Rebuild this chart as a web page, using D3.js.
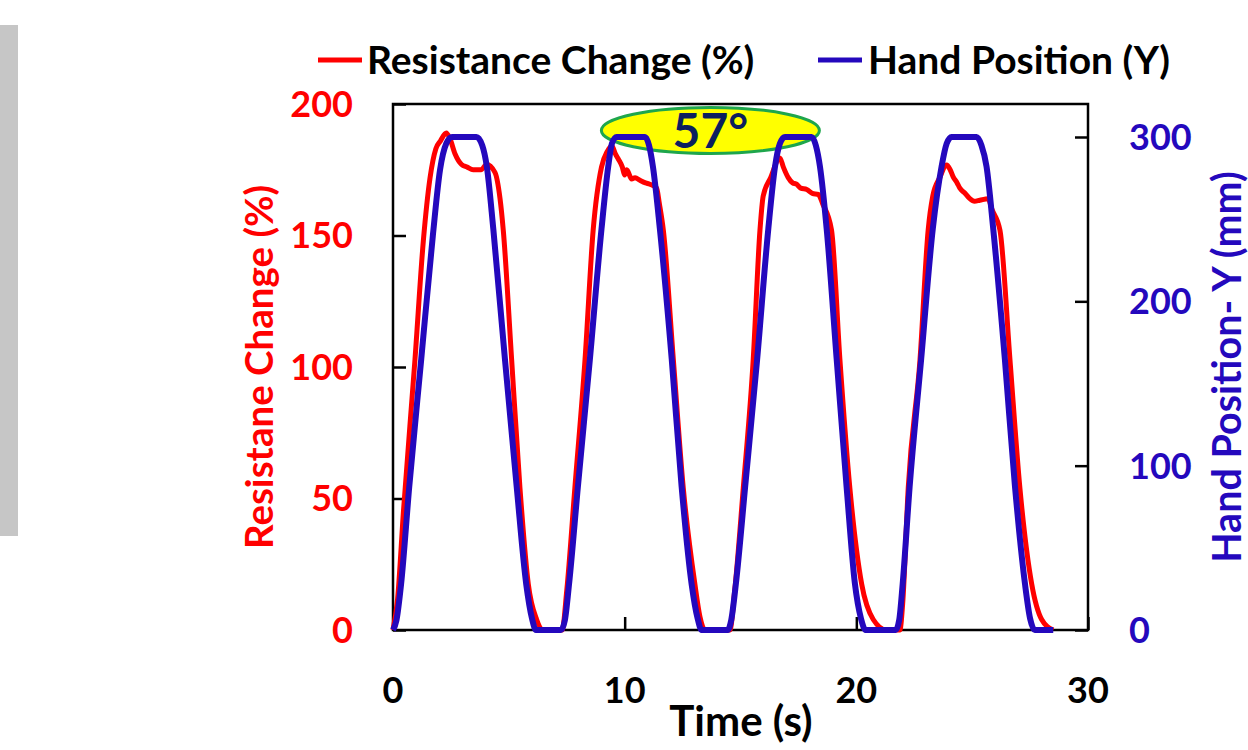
<!DOCTYPE html>
<html>
<head>
<meta charset="utf-8">
<script src="https://cdn.jsdelivr.net/npm/d3@7"></script>
<style>
  body { margin: 0; background: #fff; }
  svg { display: block; font-family: Lato, "Open Sans", sans-serif; font-weight: bold; }
</style>
</head>
<body>
<svg id="chart" width="1248" height="750"></svg>
<script>
// readings taken off the plot: [time (s), value]
var resistance = [
  [0, 0], [0.2, 12], [0.45, 45], [0.95, 103], [1.31, 148], [1.6, 172], [1.85, 183], [2.05, 186],
  [2.3, 189], [2.45, 187], [2.68, 181], [2.96, 177], [3.2, 176], [3.46, 175], [3.8, 175], [4.04, 177],
  [4.4, 174], [4.62, 164], [4.76, 152], [5.12, 103], [5.48, 54], [5.84, 17.5], [6.2, 4], [6.48, 0],
  [7.3, 0], [7.5, 15], [7.85, 54], [8.29, 103], [8.64, 152], [9.0, 176], [9.25, 182], [9.45, 184],
  [9.6, 181], [9.73, 179], [9.9, 176], [10.0, 173], [10.09, 175], [10.3, 171.5], [10.45, 172], [10.66, 171],
  [10.9, 170], [11.09, 169.5], [11.38, 168], [11.5, 162], [11.67, 152], [12.1, 103], [12.53, 54], [13.03, 17.5],
  [13.25, 5], [13.47, 0], [14.54, 0], [14.75, 15], [15.12, 54], [15.55, 103], [15.84, 152], [15.98, 165],
  [16.3, 172], [16.7, 179.5], [16.85, 176], [17.06, 172], [17.25, 170], [17.42, 169.5], [17.6, 168], [17.86, 167.5],
  [18.1, 166], [18.36, 165.6], [18.55, 162], [18.93, 152], [19.29, 103], [19.72, 54], [20.23, 17.5], [20.73, 4],
  [21.3, 0], [21.88, 0], [22.0, 10], [22.24, 54], [22.75, 103], [23.1, 152], [23.3, 165], [23.6, 172],
  [23.9, 176.8], [24.05, 175], [24.18, 172.3], [24.35, 170], [24.47, 168], [24.7, 166], [24.9, 164], [25.1, 163],
  [25.33, 163.4], [25.69, 164], [25.85, 160], [26.2, 152], [26.63, 103], [27.06, 54], [27.57, 17.5], [28.0, 4],
  [28.5, 0]
]

var handY = [
  [0, 0], [0.15, 6], [0.35, 28], [0.7, 87], [1.22, 165], [1.72, 240], [2.03, 280], [2.3, 296], [2.55, 300],
  [3.6, 300], [3.85, 295], [4.05, 282], [4.33, 244], [4.83, 165], [5.34, 87], [5.75, 28], [6.0, 7], [6.17, 0],
  [7.25, 0], [7.42, 6], [7.6, 28], [7.98, 87], [8.5, 165], [9.0, 244], [9.29, 282], [9.45, 296], [9.65, 300],
  [10.88, 300], [11.05, 295], [11.22, 282], [11.52, 244], [12.03, 165], [12.46, 87], [12.89, 28], [13.15, 7], [13.32, 0],
  [14.45, 0], [14.6, 6], [14.8, 28], [15.2, 87], [15.72, 165], [16.2, 244], [16.49, 282], [16.7, 296], [16.92, 300],
  [18.07, 300], [18.25, 295], [18.43, 282], [18.72, 244], [19.15, 165], [19.58, 87], [19.94, 28], [20.2, 7], [20.4, 0],
  [21.7, 0], [21.85, 6], [22.0, 28], [22.3, 87], [22.8, 165], [23.3, 244], [23.68, 282], [23.9, 296], [24.11, 300],
  [25.19, 300], [25.4, 295], [25.62, 282], [25.91, 244], [26.41, 165], [26.85, 87], [27.28, 28], [27.5, 7], [27.7, 0],
  [28.5, 0]
]

var xTicks = [0, 10, 20, 30]
var leftTicks = [0, 50, 100, 150, 200]
var rightTicks = [0, 100, 200, 300]
var seriesNames = ['Resistance Change (%)', 'Hand Position (Y)']
var angleLabel = '57°'

var red = '#ff0000'
var blue = '#2408bd'

var svg = d3.select('#chart')
var m = {left: 393, right: 1088, top: 104, bottom: 630}

var x = d3.scaleLinear().domain([0, 30]).range([m.left, m.right])
var yL = d3.scaleLinear().domain([0, 200]).range([m.bottom, m.top])
var yR = d3.scaleLinear().domain([0, 300]).range([m.bottom, 137])

// grey strip on the far left
svg.append('rect').attr('x', 0).attr('y', 25).attr('width', 18).attr('height', 511).attr('fill', '#c6c6c6')

// angle badge sits under the curves, its label on top
var badgeX = 13.7, badgeY = 304
svg.append('ellipse')
  .attr('cx', x(badgeX)).attr('cy', yR(badgeY))
  .attr('rx', 109).attr('ry', 23)
  .attr('fill', '#ffff00').attr('stroke', '#1ea64c').attr('stroke-width', 3)

// plot frame
svg.append('rect')
  .attr('x', m.left).attr('y', m.top)
  .attr('width', m.right - m.left).attr('height', m.bottom - m.top)
  .attr('fill', 'none').attr('stroke', '#000').attr('stroke-width', 2.5)

// inward ticks
var tickLen = 13
svg.append('g').call(d3.axisLeft(yL).tickValues(leftTicks).tickSize(-tickLen).tickFormat(''))
  .attr('transform', 'translate(' + m.left + ',0)')
svg.append('g').call(d3.axisRight(yR).tickValues(rightTicks).tickSize(-tickLen).tickFormat(''))
  .attr('transform', 'translate(' + m.right + ',0)')
svg.append('g').call(d3.axisBottom(x).tickValues(xTicks).tickSize(-tickLen).tickFormat(''))
  .attr('transform', 'translate(0,' + m.bottom + ')')
svg.selectAll('.domain').remove()
svg.selectAll('.tick line').attr('stroke', '#000').attr('stroke-width', 2.5)

// tick labels
svg.append('g').selectAll('text').data(leftTicks).join('text')
  .attr('x', 353).attr('y', d => yL(d)).attr('dy', '0.36em')
  .attr('text-anchor', 'end').attr('fill', red).attr('font-size', 36)
  .text(d => d)
svg.append('g').selectAll('text').data(rightTicks).join('text')
  .attr('x', 1129).attr('y', d => yR(d)).attr('dy', '0.36em')
  .attr('fill', blue).attr('font-size', 36)
  .text(d => d)
svg.append('g').selectAll('text').data(xTicks).join('text')
  .attr('x', d => x(d)).attr('y', 690).attr('dy', '0.36em')
  .attr('text-anchor', 'middle').attr('fill', '#000').attr('font-size', 36)
  .text(d => d)

// axis titles
svg.append('text').text('Time (s)')
  .attr('x', 741).attr('y', 721).attr('dy', '0.36em')
  .attr('text-anchor', 'middle').attr('font-size', 42)
svg.append('text').text('Resistane Change (%)')
  .attr('transform', 'translate(259,367) rotate(-90)').attr('dy', '0.36em')
  .attr('text-anchor', 'middle').attr('fill', red).attr('font-size', 38.5)
svg.append('text').text('Hand Position- Y (mm)')
  .attr('transform', 'translate(1227,367) rotate(-90)').attr('dy', '0.36em')
  .attr('text-anchor', 'middle').attr('fill', blue).attr('font-size', 39.5)

// curves
var line = d3.line().curve(d3.curveMonotoneX).x(d => x(d[0]))
svg.append('path').datum(resistance)
  .attr('d', line.y(d => yL(d[1])))
  .attr('fill', 'none').attr('stroke', red).attr('stroke-width', 5).attr('stroke-linejoin', 'round')
svg.append('path').datum(handY)
  .attr('d', line.y(d => yR(d[1])))
  .attr('fill', 'none').attr('stroke', blue).attr('stroke-width', 6).attr('stroke-linejoin', 'round')

svg.append('text').text(angleLabel)
  .attr('x', x(badgeX)).attr('y', yR(badgeY)).attr('dy', '0.36em')
  .attr('text-anchor', 'middle').attr('fill', '#0c1f5e').attr('font-size', 48)

// legend
var legend = svg.append('g').selectAll('g').data(seriesNames).join('g')
  .attr('transform', (d, i) => 'translate(' + [318, 818][i] + ',60)')
legend.append('line').attr('x1', 0).attr('x2', 44)
  .attr('stroke', (d, i) => i ? blue : red).attr('stroke-width', 5)
legend.append('text').text(d => d)
  .attr('x', (d, i) => i ? 50 : 49).attr('dy', '0.36em')
  .attr('font-size', 39).attr('fill', '#000')
</script>
</body>
</html>
